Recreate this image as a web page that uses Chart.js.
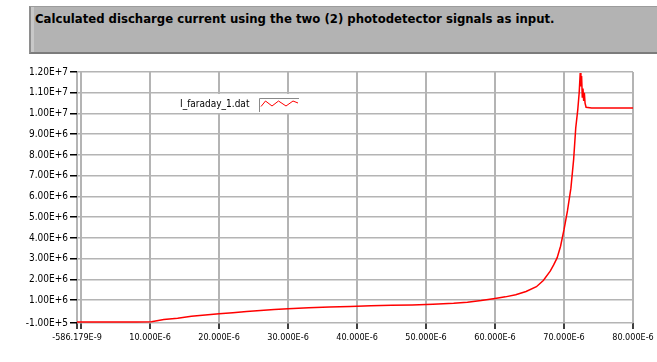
<!DOCTYPE html>
<html lang="en">
  <head>
    <meta charset="UTF-8" />
    <title>Calculated discharge current</title>
    <script src="https://cdn.jsdelivr.net/npm/chart.js"></script>
    <style>
      body { margin: 0; background: #fff; }
      #wrap { position: relative; width: 657px; height: 362px; }
      #titleBox {
        position: absolute; left: 29px; top: 6px; width: 628px; height: 48px;
        box-sizing: border-box; background: #b3b3b3;
        border-top: 1px solid #9c9c9c; border-left: 2px solid #8e8e8e; border-bottom: 2px solid #7c7c7c;
        box-shadow: inset 3px 0 0 #c8c8c8;
        font: bold 13px "DejaVu Sans Condensed"; line-height: 15px;
        padding: 4px 0 0 4px; color: #000; white-space: nowrap;
      }
      canvas { position: absolute; left: 0; top: 0; }
    </style>
  </head>
  <body>
    <div id="wrap">
      <canvas id="myChart" width="657" height="362"></canvas>
      <div id="titleBox">Calculated discharge current using the two (2) photodetector signals as input.</div>
    </div>
    <script>
      // datos (tiempo en us, corriente en 1E+6)
      const timeUs = [-0.586179, 2, 5, 8, 10.2, 12, 14, 16, 18, 20, 22, 24, 26, 28, 30, 33, 36, 39, 42, 45, 48, 51, 54, 56, 58, 60,
        61.5, 63, 64.5, 66, 67, 68, 68.5, 69, 69.5, 70, 70.5, 71, 71.4, 71.7, 72.0, 72.2, 72.35, 72.45, 72.55, 72.65, 72.75,
        72.85, 72.95, 73.05, 73.2, 74, 76, 78, 80];
      const currentE6 = [-0.05, -0.05, -0.05, -0.05, -0.04, 0.07, 0.13, 0.22, 0.28, 0.35, 0.40, 0.45, 0.50, 0.55, 0.59, 0.63, 0.67, 0.70, 0.73, 0.75, 0.77, 0.80, 0.85, 0.90, 0.98, 1.08,
        1.16, 1.26, 1.42, 1.65, 1.95, 2.40, 2.70, 3.04, 3.60, 4.40, 5.30, 6.40, 7.80, 9.30, 10.2, 11.0, 11.95, 11.3, 11.8, 10.8, 11.2,
        10.6, 11.0, 10.5, 10.3, 10.27, 10.27, 10.27, 10.27];

      const seriesName = "I_faraday_1.dat";
      const xTickValues = [-586.179e-9, 0, 10e-6, 20e-6, 30e-6, 40e-6, 50e-6, 60e-6, 70e-6, 80e-6];
      const xTickLabels = ["-586.179E-9", "", "10.000E-6", "20.000E-6", "30.000E-6", "40.000E-6", "50.000E-6", "60.000E-6", "70.000E-6", "80.000E-6"];
      const yTickValues = [-1e5, 1e6, 2e6, 3e6, 4e6, 5e6, 6e6, 7e6, 8e6, 9e6, 1e7, 1.1e7, 1.2e7];
      const yTickLabels = ["-1.00E+5", "1.00E+6", "2.00E+6", "3.00E+6", "4.00E+6", "5.00E+6", "6.00E+6", "7.00E+6", "8.00E+6", "9.00E+6", "1.00E+7", "1.10E+7", "1.20E+7"];

      const points = timeUs.map((t, i) => ({ x: t * 1e-6, y: currentE6[i] * 1e6 }));
      const axisFont = { family: "DejaVu Sans Condensed", size: 10 };

      // leyenda: texto y cajita con zigzag rojo
      const legendBox = {
        id: "legendBox",
        afterDraw(chart) {
          const { ctx } = chart;
          ctx.save();
          ctx.fillStyle = "#fff";
          ctx.fillRect(176, 94, 124, 19);
          ctx.fillStyle = "#000";
          ctx.font = "10px 'DejaVu Sans Condensed'";
          ctx.textBaseline = "middle";
          ctx.fillText(seriesName, 180, 104);
          ctx.strokeStyle = "#8a8a8a";
          ctx.lineWidth = 1;
          ctx.beginPath();
          ctx.moveTo(259.5, 112);
          ctx.lineTo(259.5, 98.5);
          ctx.lineTo(299, 98.5);
          ctx.stroke();
          ctx.strokeStyle = "#ff0000";
          ctx.beginPath();
          ctx.moveTo(261, 106.5);
          ctx.lineTo(265.5, 101);
          ctx.lineTo(272, 106);
          ctx.lineTo(278.5, 101);
          ctx.lineTo(286, 106);
          ctx.lineTo(293, 101);
          ctx.lineTo(298, 103);
          ctx.stroke();
          ctx.restore();
        },
      };

      new Chart(document.getElementById("myChart"), {
        type: "line",
        data: {
          datasets: [{ label: seriesName, data: points, borderColor: "#ff0000", borderWidth: 1.5, pointRadius: 0, tension: 0 }],
        },
        options: {
          responsive: false,
          animation: false,
          layout: { padding: { top: 72, right: 24, left: 0, bottom: 0 } },
          plugins: { legend: { display: false }, tooltip: { enabled: false } },
          scales: {
            x: {
              type: "linear",
              min: xTickValues[0],
              max: xTickValues[xTickValues.length - 1],
              afterBuildTicks: (s) => { s.ticks = xTickValues.map((v) => ({ value: v })); },
              afterFit: (s) => { s.height = 39; },
              grid: { color: "#b4b4b4", lineWidth: 2, tickColor: "#000", tickWidth: 1.5, tickLength: 6 },
              border: { display: false },
              ticks: { autoSkip: false, maxRotation: 0, padding: 3, color: "#000", font: { family: "DejaVu Sans Condensed", size: 9 },
                callback: (v, i) => xTickLabels[i] },
            },
            y: {
              min: yTickValues[0],
              max: yTickValues[yTickValues.length - 1],
              afterBuildTicks: (s) => { s.ticks = yTickValues.map((v) => ({ value: v })); },
              afterFit: (s) => { s.width = 77; },
              grid: { color: "#b4b4b4", lineWidth: 1.5, tickColor: "#000", tickWidth: 1.5, tickLength: 7 },
              border: { display: false },
              ticks: { autoSkip: false, padding: 2, color: "#000", font: axisFont, callback: (v, i) => yTickLabels[i] },
            },
          },
        },
        plugins: [legendBox],
      });
    </script>
  </body>
</html>
